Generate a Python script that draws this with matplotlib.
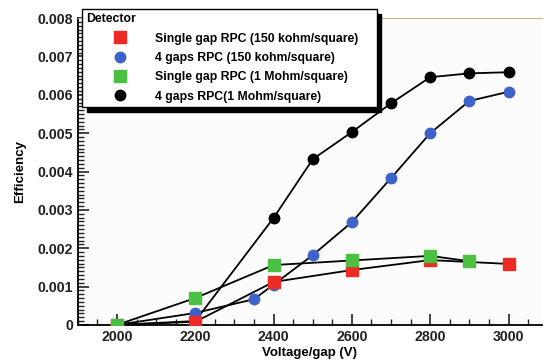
import numpy as np
import matplotlib.pyplot as plt
from matplotlib.lines import Line2D
from matplotlib.ticker import MultipleLocator, FuncFormatter

plt.rcParams['font.family'] = ['Liberation Sans', 'DejaVu Sans']
plt.rcParams['font.weight'] = 'bold'

# single gap RPC, 150 kohm/square
v_red = [2000, 2200, 2400, 2600, 2800, 3000]
e_red = [0.0, 0.00008, 0.00112, 0.00143, 0.00169, 0.00159]

# 4 gaps RPC, 150 kohm/square
v_blue = [2000, 2200, 2350, 2400, 2500, 2600, 2700, 2800, 2900, 3000]
e_blue = [0.0, 0.00031, 0.00067, 0.00105, 0.00182, 0.00268, 0.00383, 0.0050, 0.00584, 0.00608]

# single gap RPC, 1 Mohm/square
v_green = [2000, 2200, 2400, 2600, 2800, 2900]
e_green = [0.0, 0.0007, 0.00156, 0.00168, 0.0018, 0.00166]

# 4 gaps RPC, 1 Mohm/square
v_black = [2000, 2200, 2400, 2500, 2600, 2700, 2800, 2900, 3000]
e_black = [0.0, 0.0001, 0.00279, 0.00432, 0.00503, 0.00578, 0.00646, 0.00656, 0.00659]

labels = ["Single gap RPC (150 kohm/square)",
          "4 gaps RPC (150 kohm/square)",
          "Single gap RPC (1 Mohm/square)",
          "4 gaps RPC(1 Mohm/square)"]

RED = '#ec2b25'
BLUE = '#3d62c9'
GREEN = '#4cc043'

fig = plt.figure(figsize=(5.44, 3.63), dpi=100)
ax = fig.add_axes([0.143, 0.105, 0.853, 0.845])
ax.set_facecolor('#fcfcfc')

lw = 1.3
ax.plot(v_black, e_black, '-', color='k', lw=lw, marker='o', ms=7.5, mfc='k', mec='k', zorder=3)
ax.plot(v_blue, e_blue, '-', color='k', lw=lw, marker='o', ms=7.5, mfc=BLUE, mec=BLUE, zorder=3)
ax.plot(v_red, e_red, '-', color='k', lw=lw, marker='s', ms=8, mfc=RED, mec=RED, zorder=4)
ax.plot(v_green, e_green, '-', color='k', lw=lw, marker='s', ms=8, mfc=GREEN, mec=GREEN, zorder=5)

ax.set_xlim(1900, 3085)
ax.set_ylim(0, 0.008)
ax.xaxis.set_major_locator(MultipleLocator(200))
ax.xaxis.set_minor_locator(MultipleLocator(50))
ax.yaxis.set_major_locator(MultipleLocator(0.001))
ax.yaxis.set_minor_locator(MultipleLocator(0.0001))
ax.yaxis.set_major_formatter(FuncFormatter(lambda v, p: "0" if abs(v) < 1e-12 else f"{v:.3f}"))

ax.tick_params(which='major', direction='in', length=8, width=1.2, labelsize=10.2, colors='#222222')
ax.tick_params(which='minor', direction='in', length=4, width=1.0, colors='#222222')
ax.tick_params(axis='x', pad=4)

ax.spines['right'].set_visible(False)
ax.spines['top'].set_color('#e3a88a')
ax.spines['left'].set_linewidth(1.3)
ax.spines['bottom'].set_linewidth(1.3)

ax.set_xlabel("Voltage/gap (V)", fontsize=9.5, fontweight='bold', labelpad=2)
ax.set_ylabel("Efficiency", fontsize=9.5, fontweight='bold', labelpad=8)

# legend: markers only, like the ROOT "Detector" box
handles = [
    Line2D([], [], ls='none', marker='s', ms=8.5, mfc=RED, mec=RED),
    Line2D([], [], ls='none', marker='o', ms=7.5, mfc=BLUE, mec=BLUE),
    Line2D([], [], ls='none', marker='s', ms=8.5, mfc=GREEN, mec=GREEN),
    Line2D([], [], ls='none', marker='o', ms=7.5, mfc='k', mec='k'),
]
leg = fig.legend(handles, [l + '    ' for l in labels], loc='upper left',
                 bbox_to_anchor=(0.151, 0.975),
                 title="Detector", alignment='left', fontsize=8.8,
                 title_fontproperties={'weight': 'bold', 'size': 8.8},
                 frameon=True, fancybox=False, edgecolor='k', framealpha=1,
                 handlelength=5.5, handletextpad=0.15, borderpad=0.35,
                 labelspacing=0.6, borderaxespad=0,
                 shadow={'ox': 3.5, 'oy': -3.5, 'color': 'k', 'alpha': 1})
leg.get_frame().set_linewidth(1.0)
for t in leg.get_texts():
    t.set_fontweight('bold')

fig.savefig("out.png", dpi=100)
